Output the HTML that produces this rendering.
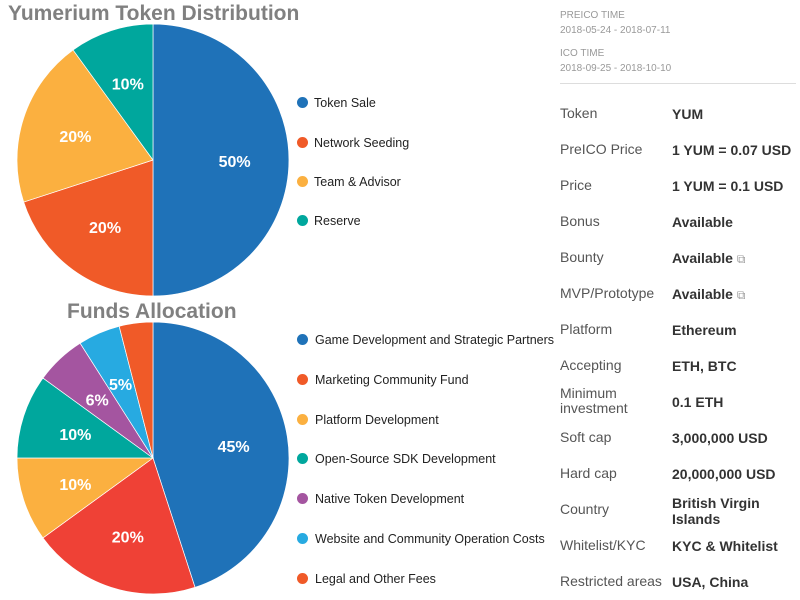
<!DOCTYPE html><html><head><style>
body{margin:0;width:800px;height:600px;background:#fff;font-family:"Liberation Sans",sans-serif;position:relative;overflow:hidden}
.a{position:absolute}
.t{font-weight:bold;color:#808080;font-size:21px}
.lg{font-size:12.5px;color:#222}
.dot{position:absolute;width:11px;height:11px;border-radius:50%}
.sm{font-size:10px;color:#999}
.lb{font-size:14px;color:#555;left:560px}
.v{font-size:14px;color:#333;font-weight:bold;left:672px}
</style></head><body>
<div class="a t" style="left:8px;top:2px">Yumerium Token Distribution</div>
<div class="a t" style="left:67px;top:300px">Funds Allocation</div>
<svg class="a" style="left:0;top:0" width="300" height="600" id="s"></svg>
<div id="leg"></div>
<div class="a sm" style="left:560px;top:10px">PREICO TIME</div>
<div class="a sm" style="left:560px;top:25px">2018-05-24 - 2018-07-11</div>
<div class="a sm" style="left:560px;top:48px">ICO TIME</div>
<div class="a sm" style="left:560px;top:63px">2018-09-25 - 2018-10-10</div>
<div class="a" style="left:560px;top:83px;width:236px;height:1px;background:#ddd"></div>
<div id="tb"></div>
<script>
var s=document.getElementById('s'),h='';
function pie(cx,cy,r,d){var a=0;d.forEach(function(x){var a0=a,a1=a+x[0]/100*2*Math.PI;a=a1;
var p=function(t,rr){return [cx+rr*Math.sin(t),cy-rr*Math.cos(t)]};var P=p(a0,r),Q=p(a1,r);
h+='<path d="M'+cx+' '+cy+'L'+P[0]+' '+P[1]+'A'+r+' '+r+' 0 '+(a1-a0>Math.PI?1:0)+' 1 '+Q[0]+' '+Q[1]+'Z" fill="'+x[1]+'" stroke="#fff" stroke-width="0.7"/>';
if(x[2]){var m=p((a0+a1)/2,r*0.6);h+='<text x="'+m[0]+'" y="'+(m[1]+7)+'" fill="#fff" font-weight="bold" font-size="16" text-anchor="middle" font-family="Liberation Sans">'+x[0]+'%</text>';}});}
pie(153,160,136,[[50,'#1f72b8',1],[20,'#f05a28',1],[20,'#fbb040',1],[10,'#00a79d',1]]);
pie(153,458,136,[[45,'#1f72b8',1],[20,'#ef4136',1],[10,'#fbb040',1],[10,'#00a79d',1],[6,'#a455a0',1],[5,'#27aae1',1],[4,'#f05a28',0]]);
s.innerHTML=h;
var L='';
[['Token Sale','#1f72b8',102],['Network Seeding','#f05a28',142],['Team & Advisor','#fbb040',181],['Reserve','#00a79d',220]].forEach(function(x){
L+='<div class="dot" style="left:297px;top:'+(x[2]-5)+'px;background:'+x[1]+'"></div><div class="a lg" style="left:314px;top:'+(x[2]-6)+'px">'+x[0].replace('&','&amp;')+'</div>';});
[['Game Development and Strategic Partners','#1f72b8'],['Marketing Community Fund','#f05a28'],['Platform Development','#fbb040'],['Open-Source SDK Development','#00a79d'],['Native Token Development','#a455a0'],['Website and Community Operation Costs','#27aae1'],['Legal and Other Fees','#f05a28']].forEach(function(x,i){var y=339+i*39.8;
L+='<div class="dot" style="left:297px;top:'+(y-5)+'px;background:'+x[1]+'"></div><div class="a lg" style="left:315px;top:'+(y-6)+'px">'+x[0]+'</div>';});
document.getElementById('leg').innerHTML=L;
var T='';
[['Token','YUM'],['PreICO Price','1 YUM = 0.07 USD'],['Price','1 YUM = 0.1 USD'],['Bonus','Available'],['Bounty','Available <span style="font-weight:normal;color:#999;font-size:12px">&#x29C9;</span>'],['MVP/Prototype','Available <span style="font-weight:normal;color:#999;font-size:12px">&#x29C9;</span>'],['Platform','Ethereum'],['Accepting','ETH, BTC'],['Minimum<br>investment','0.1 ETH'],['Soft cap','3,000,000 USD'],['Hard cap','20,000,000 USD'],['Country','British Virgin<br>Islands'],['Whitelist/KYC','KYC &amp; Whitelist'],['Restricted areas','USA, China']].forEach(function(x,i){var y=113+i*36;
var two=x[0].indexOf('<br>')>0,vt=x[1].indexOf('<br>')>0;
T+='<div class="a lb" style="top:'+(y-(two?15:7))+'px;line-height:15px">'+x[0]+'</div><div class="a v" style="top:'+(y-(vt?14:7))+'px;line-height:16px">'+x[1]+'</div>';});
document.getElementById('tb').innerHTML=T;
</script>
</body></html>
